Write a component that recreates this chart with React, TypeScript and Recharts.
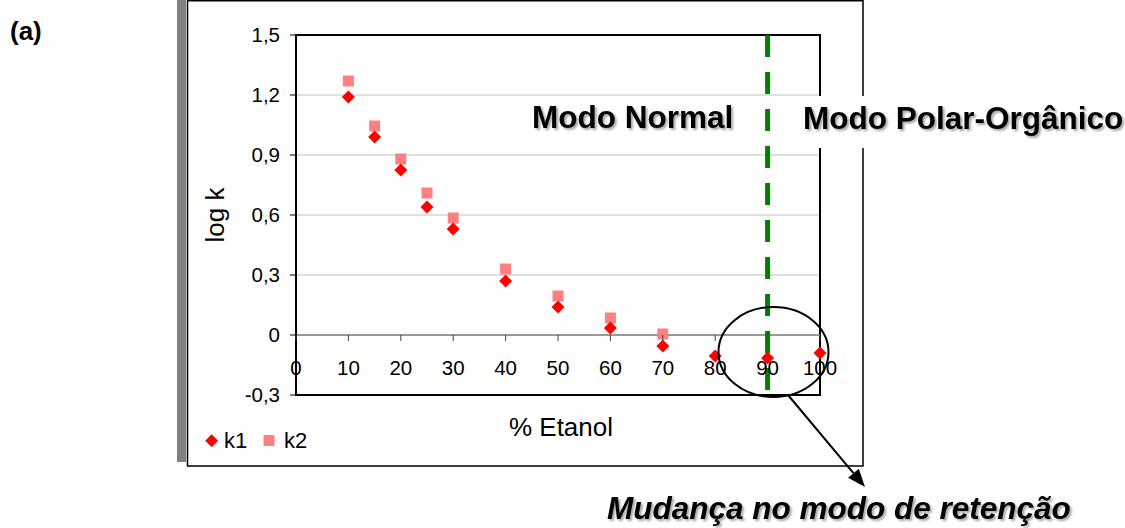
import {
  ScatterChart,
  Scatter,
  XAxis,
  YAxis,
  CartesianGrid,
  ReferenceLine,
  ReferenceArea,
  Legend,
} from 'recharts';

// % etanol in the mobile phase
const etanolK1 = [10, 15, 20, 25, 30, 40, 50, 60, 70, 80, 90, 100];
const etanolK2 = [10, 15, 20, 25, 30, 40, 50, 60, 70];

// log k values
const logK1 = [1.19, 0.99, 0.825, 0.64, 0.53, 0.27, 0.14, 0.035, -0.055, -0.105, -0.115, -0.09];
const logK2 = [1.27, 1.045, 0.88, 0.71, 0.585, 0.33, 0.195, 0.085, 0.005];

const xTicks = [0, 10, 20, 30, 40, 50, 60, 70, 80, 90, 100];
const yTicks = [-0.3, 0, 0.3, 0.6, 0.9, 1.2, 1.5];

const Y_MIN = -0.3;
const Y_MAX = 1.5;
const PLOT_H = 360;

const FONT = '"Liberation Sans", Arial, sans-serif';

const k1Data = etanolK1.map((x, i) => ({ x, y: logK1[i] }));
const k2Data = etanolK2.map((x, i) => ({ x, y: logK2[i] }));

const fmtY = (v: number) => (v === 0 ? '0' : v.toFixed(1).replace('.', ','));

// x labels sit under the zero line, not under the plot bottom
const zeroOffset = (PLOT_H * (0 - Y_MIN)) / (Y_MAX - Y_MIN);

const XTick = (props: any) => {
  const { x, y, payload } = props;
  const zy = y - zeroOffset;
  return (
    <g>
      <line x1={x} x2={x} y1={zy} y2={zy + 6} stroke="#404040" strokeWidth={1} />
      <text x={x} y={zy + 40} textAnchor="middle" fontSize={20.5} fill="#000" fontFamily={FONT}>
        {payload.value}
      </text>
    </g>
  );
};

const Diamond = (props: any) => {
  const { cx, cy } = props;
  const r = 6.5;
  return (
    <polygon
      points={`${cx},${cy - r} ${cx + r},${cy} ${cx},${cy + r} ${cx - r},${cy}`}
      fill="#FF0000"
    />
  );
};

const Square = (props: any) => {
  const { cx, cy } = props;
  return <rect x={cx - 5.5} y={cy - 5.5} width={11} height={11} fill="#FF8080" />;
};

const LegendBox = () => (
  <svg width={130} height={40} style={{ display: 'block' }}>
    <polygon points="21.7,14.2 28.2,20.7 21.7,27.2 15.2,20.7" fill="#FF0000" />
    <text x={34} y={27.5} fontSize={22} fontFamily={FONT} fill="#000">k1</text>
    <rect x={73.5} y={15} width={11} height={11} fill="#FF8080" />
    <text x={94} y={27.5} fontSize={22} fontFamily={FONT} fill="#000">k2</text>
  </svg>
);

const Annotations = () => {
  // arrow from the circled region down to the caption
  const sx = 788, sy = 395, tx = 865, ty = 487;
  const len = Math.hypot(tx - sx, ty - sy);
  const ux = (tx - sx) / len, uy = (ty - sy) / len;
  const bx = tx - 18 * ux, by = ty - 18 * uy;
  const head = `${tx},${ty} ${bx - 7 * uy},${by + 7 * ux} ${bx + 7 * uy},${by - 7 * ux}`;
  return (
    <svg
      width={1125}
      height={528}
      style={{ position: 'absolute', left: 0, top: 0, pointerEvents: 'none' }}
    >
      <defs>
        <filter id="shadow" x="-5%" y="-20%" width="110%" height="150%">
          <feDropShadow dx={2} dy={2} stdDeviation={1} floodColor="#000" floodOpacity={0.35} />
        </filter>
      </defs>
      <rect x={177} y={0} width={9} height={462} fill="#808080" />
      <rect x={187.5} y={0.75} width={675.5} height={465.25} fill="none" stroke="#000" strokeWidth={1.5} />
      <text x={10} y={40} fontSize={26} fontWeight="bold" fontFamily={FONT} fill="#000">(a)</text>
      <text
        x={224}
        y={215}
        transform="rotate(-90 224 215)"
        textAnchor="middle"
        fontSize={26}
        fontFamily={FONT}
        fill="#000"
      >
        log k
      </text>
      <text x={561} y={436} textAnchor="middle" fontSize={26} fontFamily={FONT} fill="#000">
        % Etanol
      </text>
      <text x={532} y={128} fontSize={31.5} fontWeight="bold" fontFamily={FONT} fill="#000" filter="url(#shadow)">
        Modo Normal
      </text>
      <rect x={775} y={96} width={350} height={52} fill="#fff" />
      <text x={803} y={129} fontSize={31.5} fontWeight="bold" fontFamily={FONT} fill="#000" filter="url(#shadow)">
        Modo Polar-Orgânico
      </text>
      <ellipse cx={773.5} cy={352} rx={55} ry={45} fill="none" stroke="#000" strokeWidth={2} />
      <line x1={sx} y1={sy} x2={bx} y2={by} stroke="#000" strokeWidth={2} />
      <polygon points={head} fill="#000" />
      <text
        x={607}
        y={519}
        fontSize={31.5}
        fontWeight="bold"
        fontStyle="italic"
        fontFamily={FONT}
        fill="#000"
        filter="url(#shadow)"
      >
        Mudança no modo de retenção
      </text>
    </svg>
  );
};

export default function App() {
  return (
    <div style={{ position: 'absolute', left: 0, top: 0, width: 1125, height: 528, background: '#fff' }}>
      <ScatterChart width={1125} height={528} margin={{ top: 35, right: 305, bottom: 103, left: 246 }}>
        <CartesianGrid vertical={false} stroke="#c0c0c0" strokeWidth={1} />
        <XAxis
          type="number"
          dataKey="x"
          domain={[0, 100]}
          ticks={xTicks}
          interval={0}
          height={30}
          axisLine={false}
          tickLine={false}
          tickSize={0}
          tickMargin={0}
          tick={<XTick />}
        />
        <YAxis
          type="number"
          dataKey="y"
          domain={[Y_MIN, Y_MAX]}
          ticks={yTicks}
          interval={0}
          width={50}
          tickFormatter={fmtY}
          axisLine={{ stroke: '#000', strokeWidth: 2 }}
          tickLine={{ stroke: '#000' }}
          tickSize={6}
          tickMargin={10}
          tick={{ fontSize: 20.5, fill: '#000', fontFamily: FONT }}
        />
        <ReferenceLine y={0} stroke="#808080" strokeWidth={1.5} />
        <ReferenceArea x1={0} x2={100} y1={Y_MIN} y2={Y_MAX} fill="none" stroke="#000" strokeWidth={2} />
        <Scatter name="k2" data={k2Data} shape={<Square />} isAnimationActive={false} />
        <Scatter name="k1" data={k1Data} shape={<Diamond />} isAnimationActive={false} />
        <ReferenceLine
          segment={[{ x: 90, y: Y_MAX }, { x: 90, y: Y_MIN }]}
          stroke="#008000"
          strokeWidth={5}
          strokeDasharray="22 15"
        />
        <Legend
          layout="horizontal"
          verticalAlign="middle"
          align="center"
          wrapperStyle={{ left: 190, top: 420, width: 130, height: 40 }}
          content={() => <LegendBox />}
        />
      </ScatterChart>
      <Annotations />
    </div>
  );
}
